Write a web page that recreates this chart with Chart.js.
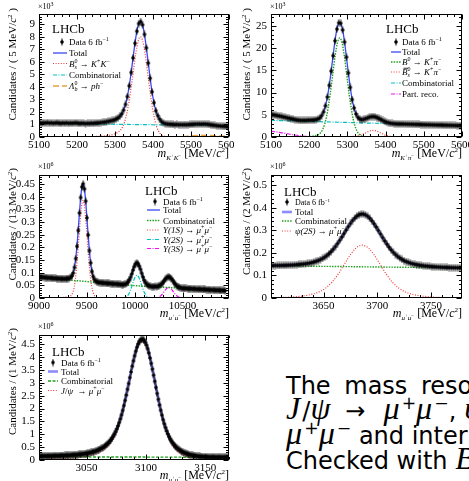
<!DOCTYPE html>
<html><head><meta charset="utf-8">
<script src="https://cdn.jsdelivr.net/npm/chart.js@4.4.1/dist/chart.umd.min.js"></script>
<style>
html,body{margin:0;padding:0;background:#fff;width:469px;height:481px;overflow:hidden;position:relative}
canvas{position:absolute}
#txt{position:absolute;left:286px;top:374px;font-family:'DejaVu Sans',sans-serif;font-size:24px;color:#000;white-space:nowrap}
#txt .ln{height:25px;line-height:25px}
#txt i{font-family:'Liberation Serif',serif;font-style:italic;font-size:1.34em;line-height:0;margin-right:2px}
#txt .sp{font-size:0.72em;position:relative;top:-0.6em;line-height:0}
#txt .ar{margin:0 18px 0 13px}
</style></head><body>
<canvas id="c1" width="234" height="160" style="left:0;top:0"></canvas>
<canvas id="c2" width="235" height="160" style="left:234px;top:0"></canvas>
<canvas id="c3" width="234" height="160" style="left:0;top:160px"></canvas>
<canvas id="c4" width="235" height="160" style="left:234px;top:160px"></canvas>
<canvas id="c5" width="234" height="161" style="left:0;top:320px"></canvas>
<div id="txt">
<div class="ln" style="word-spacing:6px">The mass resolution is determined from</div>
<div class="ln"><i>J</i>/<i>ψ</i><span class="ar">→</span><i>μ</i><span class="sp">+</span><i>μ</i><span class="sp">−</span>, <i>ψ</i>(2<i>S</i>)<span class="ar">→</span><i>μ</i><span class="sp">+</span><i>μ</i><span class="sp">−</span></div>
<div class="ln"><i>μ</i><span class="sp">+</span><i>μ</i><span class="sp">−</span> and interpolated in mass.</div>
<div class="ln">Checked with <i>B</i><span class="sp">0</span><span class="ar">→</span><i>K</i><span class="sp">+</span><i>π</i><span class="sp">−</span></div>
</div>
<script>
// ---------------- DATA ----------------
// Panel 1: Bs -> K+K- (x10^3 candidates per 5 MeV), bins start 5100
const P1_X0 = 5100, P1_BW = 5;
const P1_DATA = [1.13,1.10,1.14,1.12,1.15,1.11,1.13,1.10,1.12,1.14,
1.11,1.09,1.12,1.10,1.13,1.09,1.11,1.10,1.12,1.13,
1.10,1.08,1.10,1.09,1.07,1.09,1.08,1.10,1.09,1.11,
1.12,1.13,1.15,1.17,1.19,1.22,1.25,1.28,1.32,1.35,
1.43,1.51,1.64,1.84,2.15,2.60,3.23,4.09,5.15,6.32,
7.48,8.44,9.06,9.22,8.96,8.19,7.12,5.90,4.69,3.61,
2.74,2.10,1.71,1.42,1.23,1.12,1.06,1.04,1.02,1.01,
1.00,0.99,1.00,0.98,0.99,0.98,0.99,0.98,0.99,1.00,
1.01,1.02,1.03,1.03,1.04,1.03,1.04,1.03,1.02,1.00,
0.97,0.95,0.93,0.91,0.89,0.88,0.86,0.85,0.84,0.82];
const P1_SIG = [[5250,0.05],[5270,0.08],[5285,0.14],[5295,0.21],[5305,0.33],[5315,0.57],[5325,1.18],[5335,2.47],[5345,4.52],[5355,6.74],[5361,7.65],[5367,8.0],[5373,7.65],[5379,6.68],[5389,4.37],[5399,2.22],[5409,0.88],[5419,0.27],[5429,0.07],[5440,0.01],[5460,0]];
const P1_COMB = [[5100,1.09],[5600,0.90]];
const P1_LB = [[5100,0.01],[5450,0.01],[5480,0.04],[5500,0.09],[5520,0.13],[5545,0.14],[5570,0.10],[5600,0.05]];

// Panel 2: B0 -> K+pi- (x10^3 per 5 MeV)
const P2_X0 = 5100, P2_BW = 5;
const P2_DATA = [5.02,4.96,4.89,4.81,4.72,4.62,4.52,4.42,4.32,4.22,
4.11,4.02,3.93,3.85,3.78,3.74,3.73,3.73,3.75,3.78,
3.80,3.81,3.84,3.90,4.03,4.30,4.80,5.67,7.03,9.00,
11.63,14.84,18.31,21.65,24.29,25.72,25.61,24.10,21.39,17.98,
14.43,11.15,8.44,6.52,5.20,4.40,4.03,3.91,3.98,4.13,
4.29,4.47,4.58,4.61,4.55,4.39,4.18,3.95,3.72,3.51,
3.33,3.20,3.11,3.05,3.01,2.96,2.95,2.94,2.93,2.92,
2.90,2.89,2.88,2.87,2.86,2.84,2.83,2.82,2.81,2.80,
2.78,2.77,2.76,2.75,2.74,2.72,2.71,2.70,2.69,2.68,
2.66,2.65,2.64,2.63,2.62,2.60,2.59,2.58,2.57,2.56];
const P2_B0 = [[5180,0],[5200,0.1],[5215,0.3],[5225,0.59],[5235,1.65],[5245,4.44],[5255,9.68],[5262,14.44],[5268,18.37],[5274,21.22],[5280,22.3],[5286,21.22],[5292,18.27],[5298,14.24],[5305,9.38],[5315,4.09],[5325,1.35],[5335,0.34],[5345,0.06],[5360,0]];
const P2_BS = [[5300,0.05],[5320,0.19],[5335,0.54],[5345,0.82],[5355,1.26],[5361,1.43],[5367,1.5],[5373,1.43],[5379,1.26],[5389,0.82],[5399,0.42],[5414,0.12],[5430,0.02],[5450,0]];
const P2_COMB = [[5100,3.75],[5600,2.55]];
const P2_PR = [[5100,1.3],[5125,1.0],[5150,0.62],[5175,0.28],[5200,0.08],[5225,0.01],[5250,0]];

// Panel 3: Upsilon -> mu mu (x10^6 per 13 MeV)
const P3_X0 = 9000, P3_BW = 13;
const P3_DATA = [0.083,0.082,0.082,0.082,0.081,0.081,0.080,0.080,0.080,0.079,
0.079,0.078,0.078,0.078,0.077,0.077,0.077,0.076,0.076,0.076,
0.076,0.076,0.077,0.077,0.079,0.082,0.087,0.099,0.121,0.156,
0.204,0.267,0.336,0.397,0.439,0.451,0.431,0.383,0.317,0.249,
0.187,0.139,0.105,0.085,0.073,0.067,0.064,0.062,0.061,0.061,
0.060,0.060,0.059,0.059,0.058,0.058,0.058,0.057,0.057,0.056,
0.056,0.056,0.055,0.055,0.054,0.054,0.053,0.053,0.054,0.055,
0.058,0.063,0.071,0.081,0.095,0.110,0.124,0.134,0.139,0.136,
0.127,0.114,0.098,0.083,0.070,0.061,0.054,0.050,0.048,0.047,
0.045,0.045,0.045,0.046,0.045,0.046,0.048,0.051,0.055,0.061,
0.067,0.074,0.080,0.083,0.083,0.081,0.075,0.069,0.061,0.055,
0.049,0.045,0.042,0.041,0.039,0.038,0.038,0.038,0.038,0.037,
0.037,0.037,0.037,0.036,0.036,0.036,0.035,0.035,0.035,0.035,
0.034,0.034,0.034,0.034,0.033,0.033,0.033,0.032,0.032,0.032,
0.032,0.031,0.031,0.031,0.031,0.030,0.030,0.030,0.030,0.029];
const P3_COMB = [[9000,0.081],[9500,0.065],[10000,0.049],[10500,0.0385],[10985,0.028]];
const P3_1S = [[9250,0.002],[9300,0.005],[9340,0.012],[9370,0.047],[9390,0.109],[9410,0.202],[9425,0.281],[9440,0.347],[9450,0.375],[9460,0.385],[9470,0.375],[9480,0.347],[9495,0.281],[9510,0.202],[9530,0.109],[9550,0.047],[9580,0.0095],[9620,0.001],[9680,0]];
const P3_2S = [[9850,0.001],[9900,0.0025],[9930,0.011],[9950,0.0256],[9970,0.0464],[9990,0.0696],[10005,0.0834],[10023,0.09],[10041,0.0834],[10056,0.0696],[10076,0.0464],[10096,0.0256],[10116,0.0117],[10146,0.0025],[10200,0]];
const P3_3S = [[10180,0.0004],[10230,0.0012],[10260,0.0055],[10285,0.0139],[10305,0.0238],[10325,0.0343],[10340,0.0399],[10355,0.042],[10370,0.0399],[10385,0.0343],[10405,0.0238],[10425,0.0139],[10450,0.0055],[10480,0.0012],[10530,0]];

// Panel 4: psi(2S) -> mu mu (x10^6 per 2 MeV)
const P4_X0 = 3600, P4_BW = 2;
const P4_DATA = [0.1437,0.1438,0.1439,0.1441,0.1442,0.1445,0.1447,0.1451,0.1454,0.1458,
0.1462,0.1468,0.1477,0.1485,0.1494,0.1504,0.1517,0.1533,0.1550,0.1569,
0.1594,0.1624,0.1660,0.1701,0.1752,0.1809,0.1881,0.1962,0.2053,0.2160,
0.2278,0.2411,0.2552,0.2701,0.2855,0.3010,0.3161,0.3305,0.3432,0.3541,
0.3629,0.3689,0.3718,0.3717,0.3686,0.3624,0.3534,0.3422,0.3292,0.3146,
0.2993,0.2836,0.2680,0.2529,0.2386,0.2251,0.2130,0.2021,0.1927,0.1844,
0.1770,0.1711,0.1658,0.1615,0.1577,0.1545,0.1517,0.1495,0.1476,0.1458,
0.1443,0.1431,0.1420,0.1410,0.1399,0.1390,0.1384,0.1377,0.1372,0.1366,
0.1362,0.1357,0.1354,0.1350,0.1347,0.1343,0.1341,0.1339,0.1337,0.1335];
const P4_COMB = [[3600,0.143],[3780,0.133]];
const P4_SIG = [[3600,0.0008],[3620,0.0042],[3635,0.0122],[3645,0.0255],[3652,0.0442],[3658,0.0708],[3664,0.1086],[3670,0.1541],[3675,0.1916],[3680,0.2204],[3683,0.2305],[3686,0.234],[3689,0.2305],[3692,0.2204],[3697,0.1916],[3702,0.1541],[3708,0.1086],[3714,0.0708],[3720,0.0442],[3727,0.0255],[3737,0.0122],[3750,0.0048],[3765,0.0015],[3780,0.0004]];

// Panel 5: J/psi -> mu mu (x10^6 per 1 MeV)
const P5_X0 = 3010, P5_BW = 1;
const P5_DATA = [0.151,0.152,0.153,0.153,0.154,0.154,0.154,0.155,0.157,0.158,
0.159,0.161,0.161,0.163,0.164,0.166,0.167,0.169,0.171,0.173,
0.174,0.176,0.178,0.180,0.182,0.184,0.189,0.193,0.196,0.198,
0.202,0.206,0.211,0.215,0.220,0.225,0.231,0.237,0.243,0.251,
0.260,0.269,0.280,0.292,0.303,0.316,0.330,0.346,0.364,0.384,
0.405,0.428,0.453,0.480,0.511,0.545,0.581,0.623,0.670,0.723,
0.782,0.848,0.923,1.006,1.101,1.206,1.326,1.455,1.599,1.757,
1.931,2.120,2.318,2.527,2.747,2.973,3.203,3.425,3.645,3.856,
4.053,4.230,4.385,4.512,4.606,4.666,4.693,4.689,4.651,4.577,
4.469,4.328,4.159,3.967,3.756,3.531,3.297,3.058,2.820,2.586,
2.358,2.140,1.936,1.745,1.569,1.408,1.262,1.131,1.013,0.909,
0.816,0.735,0.664,0.601,0.546,0.497,0.454,0.415,0.382,0.352,
0.325,0.301,0.280,0.261,0.244,0.227,0.213,0.201,0.190,0.179,
0.171,0.163,0.156,0.149,0.143,0.138,0.134,0.130,0.127,0.124,
0.122,0.119,0.117,0.115,0.114,0.113,0.112,0.111,0.110,0.110,
0.109,0.109,0.108,0.108,0.108,0.107,0.107,0.106,0.106,0.106];
const P5_COMB = [[3010,0.125],[3170,0.105]];
const P5_SIG = [[3012,0.027],[3022,0.036],[3032,0.055],[3042,0.087],[3050,0.135],[3058,0.235],[3064,0.377],[3068,0.528],[3072,0.768],[3076,1.147],[3080,1.725],[3083,2.306],[3086,2.971],[3089,3.636],[3092,4.203],[3095,4.533],[3097,4.58],[3099,4.505],[3102,4.133],[3105,3.531],[3108,2.825],[3111,2.136],[3114,1.543],[3118,0.958],[3122,0.588],[3126,0.364],[3132,0.18],[3140,0.066],[3150,0.015],[3160,0.002],[3170,0]];

// ---------------- STYLE / DRAWING ----------------
const FS = "'Liberation Serif','DejaVu Serif',serif";
Chart.defaults.font.family = FS;
const ST = {
  total:{c:'#3a48f5',w:1.3,d:[]},
  totalL:{c:'#8c8cff',w:2.6,d:[]},
  red:{c:'#f03c3c',w:1.2,d:[1,1.6]},
  cyan:{c:'#00c4c4',w:1.2,d:[4,1.5,1,1.5]},
  orange:{c:'#e8a040',w:1.3,d:[6,3]},
  green:{c:'#20a020',w:1.4,d:[1.5,1.2]},
  green5:{c:'#20a020',w:1.4,d:[3,1.5]},
  mag:{c:'#f010f0',w:1.2,d:[4,1.5,1,1.5]}
};
const MARK = (() => { const c = document.createElement('canvas'); c.width = 6; c.height = 8;
  const g = c.getContext('2d'); g.fillStyle = '#000'; g.beginPath(); g.arc(3,4,1.8,0,Math.PI*2); g.fill(); g.fillRect(2.5,0.5,1,7); return c; })();

function bins(x0, bw, arr){ return arr.map((y,i)=>({x:x0+bw*(i+0.5), y})); }
function pts(arr){ return arr.map(p=>({x:p[0], y:p[1]})); }
function majors(r, step){ const o=[]; for(let k=Math.ceil(r[0]/step-1e-9); k*step<=r[1]+1e-9; k++) o.push(+(k*step).toFixed(6)); return o; }
function setFont(ctx,s){ ctx.font = (s[2]?'italic ':'') + s[1] + 'px ' + FS; }
function rich(ctx, segs, x, y, align){
  let cx=0, ps=0; const place=[];
  for (const s of segs){ setFont(ctx,s); const w=ctx.measureText(s[0]).width; const sx = s[4]?ps:cx;
    place.push([s,sx,w]); if (s[4]) cx=Math.max(cx,sx+w); else { ps=sx; cx=sx+w; } }
  const off = align==='right' ? x-cx : align==='center' ? x-cx/2 : x;
  for (const [s,sx,w] of place){ setFont(ctx,s); ctx.fillText(s[0], off+sx, y+(s[3]||0));
    if (s[5]) ctx.fillRect(off+sx+1.5, y-s[1]*0.8, w-1, 0.8); }
}
const MUMU = [['μ',9,1],['+',6,0,-4],['μ',9,1],['−',6,0,-4]];
const DATA_LBL = [['Data 6 fb',9,0],['−1',6,0,-4]];
function xTitle(sub){ return [['m',12,1]].concat(sub,[[' [MeV/',12,0],['c',12,1],['2',7,0,-5],[']',12,0]]); }
const SUB_KK = [['K',7,1,3],['+',5,0,0],['K',7,1,3],['−',5,0,0]];
const SUB_KPI = [['K',7,1,3],['+',5,0,0],['π',7,1,3],['−',5,0,0]];
const SUB_MM = [['μ',7,1,3],['+',5,0,0],['μ',7,1,3],['−',5,0,0]];
function yTitle(a,b){ return [[a,11,0],['c',11,1],['2',7,0,-4],[b,11,0]]; }

const PANELS = [
 {id:'c1', x0:P1_X0, bw:P1_BW, data:P1_DATA, total:ST.total,
  comps:[[P1_SIG,ST.red],[P1_COMB,ST.cyan],[P1_LB,ST.orange]],
  xr:[5100,5600], xM:100, xm:20, yr:[0,9.82], yM:1, ym:0.2,
  top:14, right:5, H:160, bottom:137, yw:39, mult:'3', xtY:157,
  xt:xTitle(SUB_KK), yt:yTitle('Candidates / ( 5 MeV/',' )'),
  lhcb:[52,33], mx:62, lx:[53,67], tx:69,
  rows:[[42,'data',DATA_LBL],[53,ST.total,[['Total',9,0]]],
   [63.5,ST.red,[['B',9,1],['s',6,1,2],['0',6,0,-4,1],[' → ',9,0],['K',9,1],['+',6,0,-4],['K',9,1],['−',6,0,-4]]],
   [75,ST.cyan,[['Combinatorial',9,0]]],
   [86,ST.orange,[['Λ',9,1],['b',6,1,2],['0',6,0,-4,1],[' → ',9,0],['p',9,1],['h',9,1],['−',6,0,-4]]]]},
 {id:'c2', x0:P2_X0, bw:P2_BW, data:P2_DATA, total:ST.total,
  comps:[[P2_B0,ST.green],[P2_BS,ST.red],[P2_COMB,ST.cyan],[P2_PR,ST.mag]],
  xr:[5100,5600], xM:100, xm:20, yr:[0,27.7], yM:5, ym:1,
  top:14, right:7, H:160, bottom:137, yw:37, mult:'3', xtY:157,
  xt:xTitle(SUB_KPI), yt:yTitle('Candidates / ( 5 MeV/',' )'),
  lhcb:[152,33], mx:162, lx:[157,167], tx:168,
  rows:[[42,'data',DATA_LBL],[52,ST.total,[['Total',9,0]]],
   [62,ST.green,[['B',9,1],['0',6,0,-4],[' → ',9,0],['K',9,1],['+',6,0,-4],['π',9,1],['−',6,0,-4]]],
   [72,ST.red,[['B',9,1,0,0,1],['s',6,1,2],['0',6,0,-4,1],[' → ',9,0],['K',9,1],['+',6,0,-4],['π',9,1],['−',6,0,-4]]],
   [83,ST.cyan,[['Combinatorial',9,0]]],[94,ST.mag,[['Part. reco.',9,0]]]]},
 {id:'c3', x0:P3_X0, bw:P3_BW, data:P3_DATA, total:ST.total,
  comps:[[P3_COMB,ST.green],[P3_1S,ST.red],[P3_2S,ST.cyan],[P3_3S,ST.mag]],
  xr:[9000,10985], xM:500, xm:100, yr:[0,0.486], yM:0.05, ym:0.01,
  top:15, right:5, H:160, bottom:138, yw:39, mult:'6', xtY:157,
  xt:xTitle(SUB_MM), yt:yTitle('Candidates / (13 MeV/',')'),
  lhcb:[145,35], mx:155, lx:[147,160], tx:163,
  rows:[[41.5,'data',DATA_LBL],[50,ST.total,[['Total',9,0]]],[60.5,ST.green,[['Combinatorial',9,0]]],
   [70,ST.red,[['Υ',9,1],['(1S)',9,1],[' → ',9,0]].concat(MUMU)],
   [79.5,ST.cyan,[['Υ',9,1],['(2S)',9,1],[' → ',9,0]].concat(MUMU)],
   [88.5,ST.mag,[['Υ',9,1],['(3S)',9,1],[' → ',9,0]].concat(MUMU)]]},
 {id:'c4', x0:P4_X0, bw:P4_BW, data:P4_DATA, total:ST.totalL,
  comps:[[P4_COMB,ST.green],[P4_SIG,ST.red]],
  xr:[3601,3779], xM:50, xm:10, yr:[0,0.545], yM:0.1, ym:0.02,
  top:15, right:7, H:160, bottom:138, yw:37, mult:'6', xtY:157,
  xt:xTitle(SUB_MM), yt:yTitle('Candidates / (2 MeV/',')'),
  lhcb:[50,36], mx:53, lx:[48,58], tx:61,
  rows:[[42,'data',[['Data 6 fb',8,0],['−1',5,0,-3]]],[52,ST.totalL,[['Total',9,0]]],[61,ST.green,[['Combinatorial',9,0]]],
   [71,ST.red,[['ψ',9,1],['(2S)',9,1],[' → ',9,0]].concat(MUMU)]]},
 {id:'c5', x0:P5_X0, bw:P5_BW, data:P5_DATA, total:ST.totalL,
  comps:[[P5_COMB,ST.green5],[P5_SIG,ST.red]],
  xr:[3010,3170], xM:50, xm:10, yr:[0,4.86], yM:0.5, ym:0.1,
  top:15, right:5, H:161, bottom:140, yw:39, mult:'6', xtY:159,
  xt:xTitle(SUB_MM), yt:yTitle('Candidates / (1 MeV/',')'),
  lhcb:[52,36], mx:53, lx:[48,58], tx:61,
  rows:[[42.5,'data',DATA_LBL],[51.5,ST.totalL,[['Total',9,0]]],[61,ST.green5,[['Combinatorial',9,0]]],
   [70.5,ST.red,[['J',9,1],['/',9,0],['ψ',9,1],['  → ',9,0]].concat(MUMU)]]}
];

function lineDS(data, st){ return {data, showLine:true, borderColor:st.c, backgroundColor:st.c, borderWidth:st.w,
  borderDash:st.d, pointRadius:0, pointHoverRadius:0, cubicInterpolationMode:'monotone', fill:false, clip:0}; }

function decor(P){ return { id:'decor', afterDraw(chart){
  const ctx=chart.ctx, a=chart.chartArea, xs=chart.scales.x, ys=chart.scales.y;
  ctx.save();
  ctx.strokeStyle='#000'; ctx.lineWidth=1; ctx.setLineDash([]);
  const L=Math.round(a.left)+0.5, R=Math.round(a.right)-0.5, T=Math.round(a.top)+0.5, B=Math.round(a.bottom)-0.5;
  ctx.strokeRect(L,T,R-L,B-T);
  ctx.beginPath();
  for (let k=Math.ceil(P.xr[0]/P.xm-1e-9); k*P.xm<=P.xr[1]+1e-9; k++){
    const v=k*P.xm, px=Math.round(xs.getPixelForValue(v))+0.5;
    const len = Math.abs(v/P.xM-Math.round(v/P.xM))<1e-6 ? 5 : 2.5;
    ctx.moveTo(px,B); ctx.lineTo(px,B-len); ctx.moveTo(px,T); ctx.lineTo(px,T+len);
  }
  for (let k=Math.ceil(P.yr[0]/P.ym-1e-9); k*P.ym<=P.yr[1]+1e-9; k++){
    const v=k*P.ym, py=Math.round(ys.getPixelForValue(v))+0.5;
    const len = Math.abs(v/P.yM-Math.round(v/P.yM))<1e-6 ? 5 : 2.5;
    ctx.moveTo(L,py); ctx.lineTo(L+len,py); ctx.moveTo(R,py); ctx.lineTo(R-len,py);
  }
  ctx.stroke();
  ctx.fillStyle='#000'; ctx.textBaseline='alphabetic'; ctx.textAlign='left';
  rich(ctx, [['×10',8,0],[P.mult,6,0,-3]], P.yw-1, 9, 'left');
  ctx.font='13px '+FS; ctx.fillText('LHCb', P.lhcb[0], P.lhcb[1]);
  for (const [y,st,segs] of P.rows){
    if (st==='data') ctx.drawImage(MARK, P.mx-3, y-4);
    else { ctx.save(); ctx.strokeStyle=st.c; ctx.lineWidth=st.w; ctx.setLineDash(st.d);
      ctx.beginPath(); ctx.moveTo(P.lx[0],y); ctx.lineTo(P.lx[1],y); ctx.stroke(); ctx.restore(); }
    ctx.fillStyle='#000';
    rich(ctx, segs, P.tx, y+3, 'left');
  }
  rich(ctx, P.xt, a.right, P.xtY, 'right');
  ctx.save(); ctx.translate(16,8); ctx.rotate(-Math.PI/2); rich(ctx, P.yt, 0, 0, 'right'); ctx.restore();
  ctx.restore();
}}; }

function zeroPad(s){ s.paddingLeft=0; s.paddingRight=0; s.paddingTop=0; s.paddingBottom=0; }

for (const P of PANELS){
  const datasets = [
    {data:bins(P.x0,P.bw,P.data), showLine:false, pointStyle:MARK, pointRadius:3, pointHoverRadius:3, clip:0},
    lineDS(bins(P.x0,P.bw,P.data), P.total)
  ];
  for (const [arr,st] of P.comps) datasets.push(lineDS(pts(arr), st));
  new Chart(document.getElementById(P.id), {
    type:'scatter', data:{datasets},
    options:{ responsive:false, animation:false, devicePixelRatio:1, events:[],
      layout:{padding:{left:0, top:P.top, right:P.right, bottom:0}},
      plugins:{legend:{display:false}, tooltip:{enabled:false}},
      scales:{
        x:{type:'linear', min:P.xr[0], max:P.xr[1],
          afterBuildTicks:s=>{ s.ticks = majors(P.xr,P.xM).map(v=>({value:v})); },
          afterFit:s=>{ s.height = P.H-P.bottom; zeroPad(s); },
          ticks:{autoSkip:false, maxRotation:0, minRotation:0, padding:2, color:'#000', font:{size:11,family:FS}, callback:v=>String(v)},
          grid:{display:false, drawTicks:false}, border:{display:false}},
        y:{type:'linear', min:P.yr[0], max:P.yr[1],
          afterBuildTicks:s=>{ s.ticks = majors(P.yr,P.yM).map(v=>({value:v})); },
          afterFit:s=>{ s.width = P.yw; zeroPad(s); },
          ticks:{autoSkip:false, padding:4, color:'#000', font:{size:11,family:FS}, callback:v=>String(+(+v).toFixed(4))},
          grid:{display:false, drawTicks:false}, border:{display:false}}
      }
    },
    plugins:[decor(P)]
  });
}
</script>
</body></html>
